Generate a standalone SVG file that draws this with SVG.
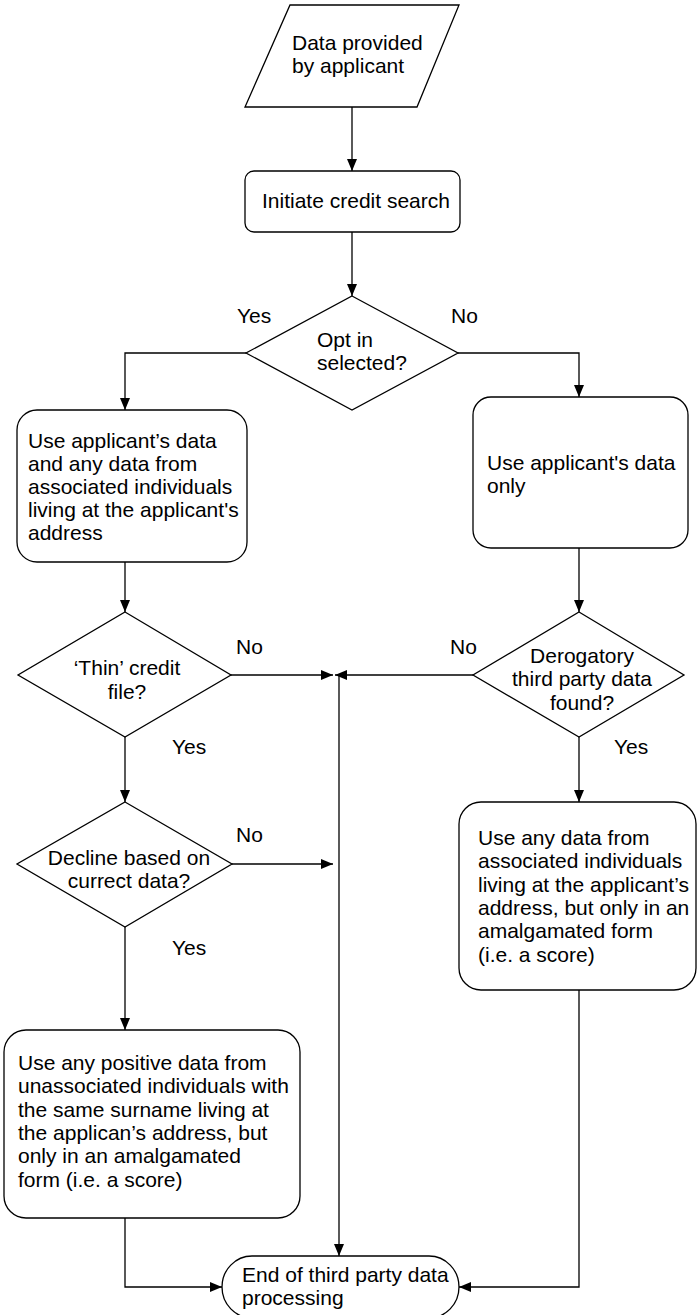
<svg xmlns="http://www.w3.org/2000/svg" width="697" height="1315" viewBox="0 0 697 1315">
<defs>
<marker id="ah" markerUnits="userSpaceOnUse" markerWidth="12" markerHeight="12" viewBox="0 0 12 10" refX="12" refY="5" orient="auto">
<path d="M0,0 L12,5 L0,10 Z" fill="#000"/>
</marker>
<style>
.n{fill:#fff;stroke:#000;stroke-width:1.3}
.c{fill:none;stroke:#000;stroke-width:1.3;marker-end:url(#ah)}
.p{fill:none;stroke:#000;stroke-width:1.3}
text{font-family:"Liberation Sans",Arial,Helvetica,sans-serif;font-size:21px;fill:#000}
.m{text-anchor:middle}
</style>
</defs>
<rect width="697" height="1315" fill="#fff"/>
<g id="connectors">
<path class="c" d="M352,107 V171"/>
<path class="c" d="M352,232 V296"/>
<path class="c" d="M246,353 H125 V410"/>
<path class="c" d="M458,353 H579 V397"/>
<path class="c" d="M125,562 V612"/>
<path class="c" d="M579,548 V612"/>
<path class="c" d="M231,675 H333"/>
<path class="c" d="M473,675 H335"/>
<path class="c" d="M339,675 V1256"/>
<path class="c" d="M125,737 V802"/>
<path class="c" d="M579,737 V802"/>
<path class="c" d="M232,864 H333"/>
<path class="c" d="M125,927 V1030"/>
<path class="c" d="M579,990 V1287 H459"/>
<path class="c" d="M125,1218 V1287 H222"/>
</g>
<g id="labels">
<text x="237" y="323">Yes</text>
<text x="451" y="323">No</text>
<text x="236" y="654">No</text>
<text x="450" y="654">No</text>
<text x="172" y="754">Yes</text>
<text x="614" y="754">Yes</text>
<text x="236" y="842">No</text>
<text x="172" y="955">Yes</text>
</g>
<g id="n-data">
<polygon class="n" points="290,5 459,5 417,107 245,107"/>
<text x="292" y="50">Data provided</text>
<text x="292" y="73">by applicant</text>
</g>
<g id="n-initiate">
<rect class="n" x="245" y="171" width="215" height="61" rx="9"/>
<text x="262" y="208">Initiate credit search</text>
</g>
<g id="n-optin">
<polygon class="n" points="352,296 458,353 352,410 246,353"/>
<text x="317" y="347">Opt in</text>
<text x="317" y="370">selected?</text>
</g>
<g id="n-useall">
<rect class="n" x="17" y="410" width="230" height="152" rx="20"/>
<text x="28" y="448">Use applicant’s data</text>
<text x="28" y="471">and any data from</text>
<text x="28" y="494">associated individuals</text>
<text x="28" y="517">living at the applicant's</text>
<text x="28" y="540">address</text>
</g>
<g id="n-useonly">
<rect class="n" x="473" y="397" width="215" height="151" rx="18"/>
<text x="487" y="470">Use applicant's data</text>
<text x="487" y="493">only</text>
</g>
<g id="n-thin">
<polygon class="n" points="125,612 231,675 125,737 18,675"/>
<text class="m" x="127" y="675">‘Thin’ credit</text>
<text class="m" x="127" y="699">file?</text>
</g>
<g id="n-derog">
<polygon class="n" points="579,612 684,675 579,737 473,675"/>
<text class="m" x="582" y="663">Derogatory</text>
<text class="m" x="582" y="686">third party data</text>
<text class="m" x="582" y="710">found?</text>
</g>
<g id="n-decline">
<polygon class="n" points="125,802 232,864 125,927 17,864"/>
<text class="m" x="129" y="865">Decline based on</text>
<text class="m" x="129" y="888">currect data?</text>
</g>
<g id="n-assoc">
<rect class="n" x="459" y="802" width="237" height="188" rx="22"/>
<text x="478" y="845">Use any data from</text>
<text x="478" y="868">associated individuals</text>
<text x="478" y="892">living at the applicant’s</text>
<text x="478" y="915">address, but only in an</text>
<text x="478" y="938">amalgamated form</text>
<text x="478" y="962">(i.e. a score)</text>
</g>
<g id="n-unassoc">
<rect class="n" x="4" y="1030" width="296" height="188" rx="22"/>
<text x="18" y="1070">Use any positive data from</text>
<text x="18" y="1093">unassociated individuals with</text>
<text x="18" y="1117">the same surname living at</text>
<text x="18" y="1140">the applican’s address, but</text>
<text x="18" y="1163">only in an amalgamated</text>
<text x="18" y="1187">form (i.e. a score)</text>
</g>
<g id="n-end">
<rect class="n" x="222" y="1256" width="237" height="62" rx="30" ry="31"/>
<text x="242" y="1282">End of third party data</text>
<text x="242" y="1305">processing</text>
</g>
</svg>
